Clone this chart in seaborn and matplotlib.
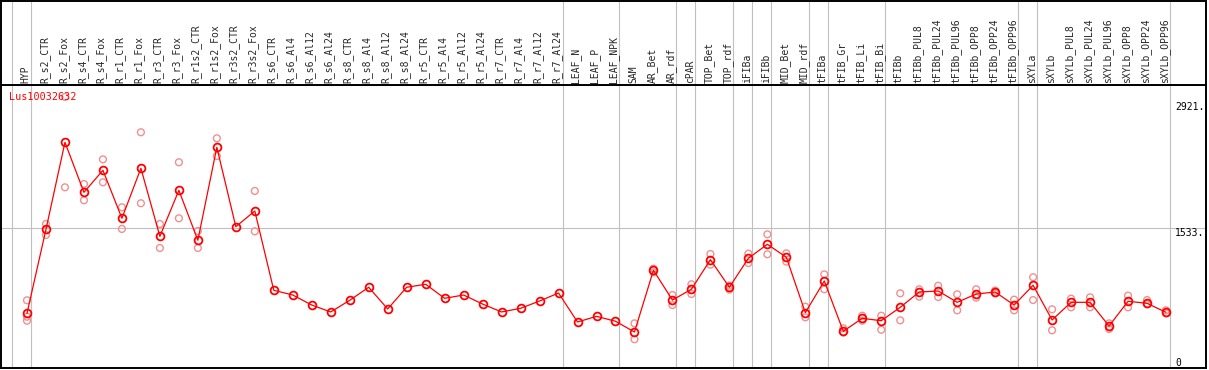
import numpy as np
import pandas as pd
import matplotlib
matplotlib.use("Agg")
import matplotlib.pyplot as plt
import seaborn as sns

# sample names along the x axis
labels = ["HYP", "R_s2_CTR", "R_s2_Fox", "R_s4_CTR", "R_s4_Fox", "R_r1_CTR", "R_r1_Fox",
          "R_r3_CTR", "R_r3_Fox", "R_r1s2_CTR", "R_r1s2_Fox", "R_r3s2_CTR", "R_r3s2_Fox",
          "R_s6_CTR", "R_s6_Al4", "R_s6_Al12", "R_s6_Al24", "R_s8_CTR", "R_s8_Al4", "R_s8_Al12",
          "R_s8_Al24", "R_r5_CTR", "R_r5_Al4", "R_r5_Al12", "R_r5_Al24", "R_r7_CTR", "R_r7_Al4",
          "R_r7_Al12", "R_r7_Al24", "LEAF_N", "LEAF_P", "LEAF_NPK", "SAM", "AR_Bet", "AR_rdf",
          "cPAR", "TOP_Bet", "TOP_rdf", "iFIBa", "iFIBb", "MID_Bet", "MID_rdf", "tFIBa",
          "tFIB_Gr", "tFIB_Li", "tFIB_Bi", "tFIBb", "tFIBb_PUL8", "tFIBb_PUL24", "tFIBb_PUL96",
          "tFIBb_OPP8", "tFIBb_OPP24", "tFIBb_OPP96", "sXYLa", "sXYLb", "sXYLb_PUL8",
          "sXYLb_PUL24", "sXYLb_PUL96", "sXYLb_OPP8", "sXYLb_OPP24", "sXYLb_OPP96"]

# mean expression per sample
means = [600, 1522, 2477, 1928, 2170, 1643, 2192, 1445, 1950, 1402, 2422, 1551, 1723,
         853, 801, 691, 615, 743, 886, 648, 886, 919, 765, 801, 702, 615, 655, 735, 823,
         505, 567, 513, 395, 1072, 746, 864, 1189, 886, 1204, 1358, 1215, 607, 955,
         403, 545, 519, 666, 834, 845, 721, 812, 834, 691, 908, 527, 721, 721, 461, 732, 710, 611]

# individual replicates (empty where none shown)
replicates = [[743, 563, 519], [1581, 1460], [2975, 1983], [2020, 1841], [2290, 2038],
              [1764, 1526], [2587, 1808], [1581, 1317], [2258, 1643], [1504, 1317],
              [2521, 2327], [], [1943, 1500],
              [], [], [], [], [], [], [], [], [], [], [], [], [], [], [], [],
              [], [], [],
              [490, 315], [1090, 1050], [801, 691], [919, 812], [1251, 1134], [905, 860],
              [1255, 1152], [1467, 1248], [1259, 1167], [673, 556], [1028, 864],
              [436, 390], [574, 519], [574, 420], [820, 523], [864, 783], [903, 779],
              [809, 633], [864, 772], [850, 820], [750, 633], [996, 746], [644, 414],
              [761, 666], [776, 666], [490, 428], [794, 666], [746, 699], [633, 600]]

# index of last sample in each group (separator lines)
group_ends = [-1, 0, 28, 31, 34, 35, 37, 38, 39, 41, 42, 45, 52, 53, 60]
ytick_values = [2921, 1533, 0]
gene = "Lus10032632"

sns.set_style("white")
plt.rcParams['font.family'] = ['DejaVu Sans Mono']

W, H = 1209, 370
fig = plt.figure(figsize=(W / 100, H / 100), dpi=100)


def px_rect(x0, y0, x1, y1):
    return [x0 / W, 1 - y1 / H, (x1 - x0) / W, (y1 - y0) / H]


ax = fig.add_axes(px_rect(1, 85, 1206, 368))
hx = fig.add_axes(px_rect(1, 0.7, 1206, 85))

step = (1166 - 27) / 60
xlim = (-(27 - 1) / step, 60 + (1206 - 1166) / step)
ymax = 3106

pos = np.arange(len(labels))
mean_df = pd.DataFrame({"pos": pos, "value": means})
rep_df = pd.DataFrame([(i, v) for i, reps in enumerate(replicates) for v in reps],
                      columns=["pos", "value"])

for b in group_ends:
    ax.axvline(b + 0.21, color="#c0c0c0", lw=0.8, zorder=0)
    hx.axvline(b + 0.21, color="#c0c0c0", lw=0.8, zorder=0)
ax.axhline(1533, color="#c0c0c0", lw=0.8, zorder=0)

pink = "#f09090"
sns.scatterplot(data=rep_df, x="pos", y="value", ax=ax, marker="o", s=24,
                color=pink, facecolor="none", edgecolor=pink, linewidth=1.0, zorder=1)
sns.lineplot(data=mean_df, x="pos", y="value", ax=ax, color="red", lw=0.9,
             marker="o", markersize=5.6, markerfacecolor="none", markeredgecolor="red",
             markeredgewidth=1.3, zorder=3)

ax.set_xlim(*xlim)
ax.set_ylim(0, ymax)
ax.set_xticks([])
ax.set_yticks([])
ax.set_xlabel("")
ax.set_ylabel("")

yt = ax.get_yaxis_transform()
xf = (1175 - 1) / 1205
for v in ytick_values:
    ax.text(xf, v, f"{v}." if v else "0", transform=yt, fontsize=7,
            va="top" if v else "bottom", ha="left", color="black")

ax.text((9 - 1) / 1205, (368 - 97) / 283, gene, transform=ax.transAxes,
        color="red", fontsize=7.3, va="center", ha="left", zorder=5)

hx.set_xlim(*xlim)
hx.set_ylim(0, 1)
hx.set_xticks([])
hx.set_yticks([])
for i, lab in enumerate(labels):
    hx.text(i - 0.08, 0.025, lab, rotation=90, ha="center", va="bottom", fontsize=7)

for a in (ax, hx):
    for sp in a.spines.values():
        sp.set_color("black")
        sp.set_linewidth(1.4)

fig.savefig("out.png", dpi=100)
